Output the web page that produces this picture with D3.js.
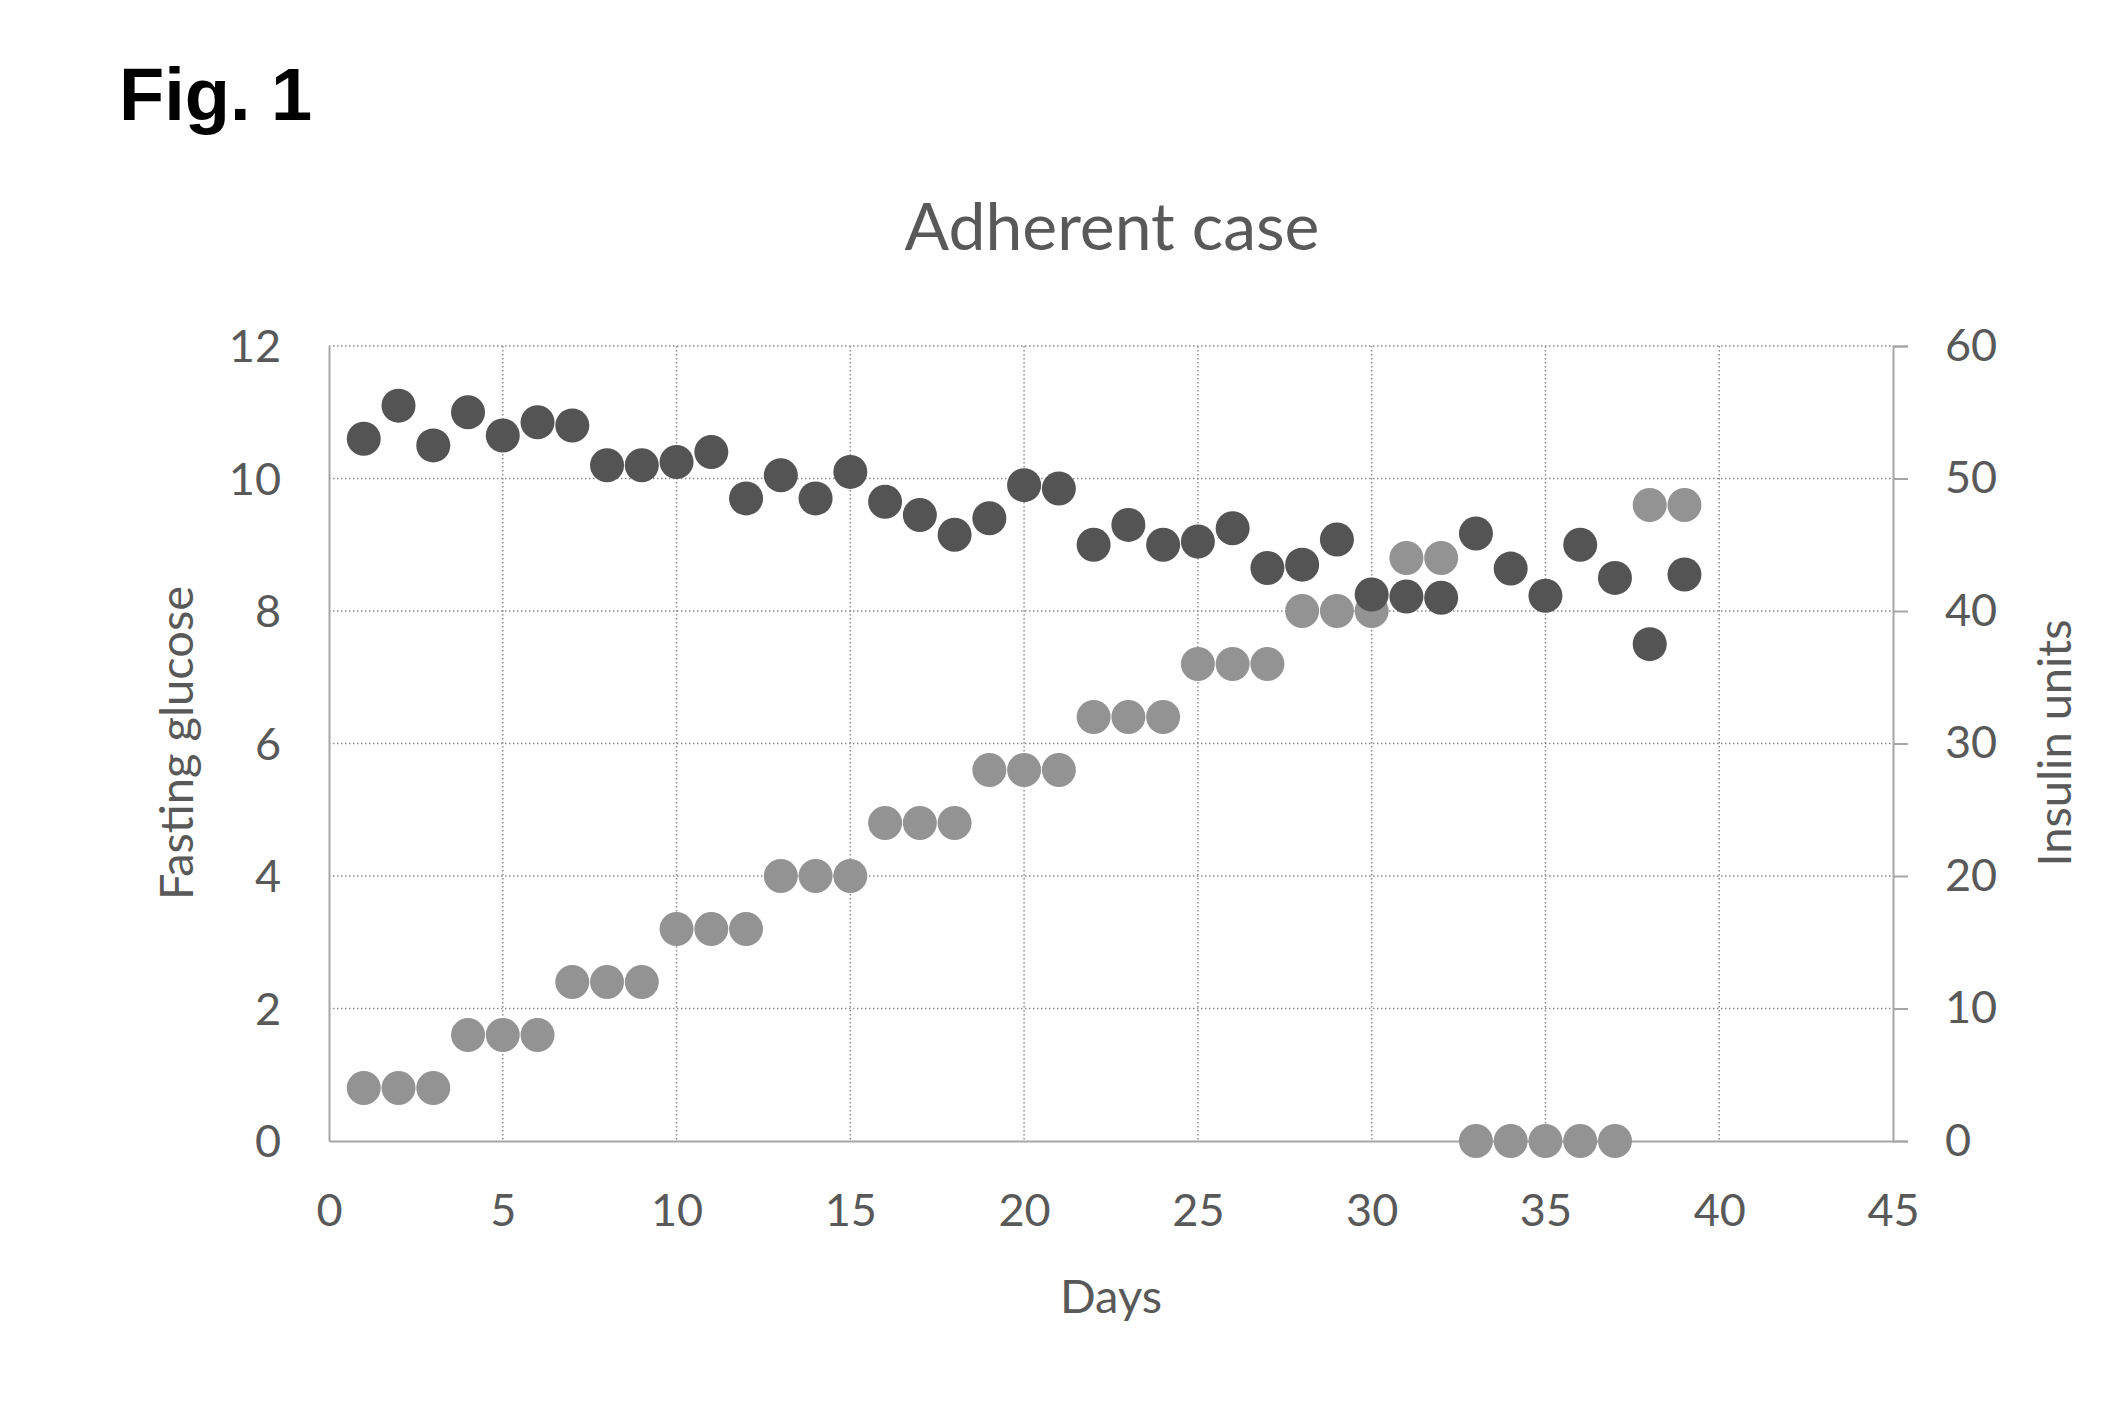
<!DOCTYPE html>
<html>
<head>
<meta charset="utf-8">
<script src="https://cdn.jsdelivr.net/npm/d3@7"></script>
<style>
  body { margin: 0; background: #fff; }
</style>
</head>
<body>
<div id="vizContainer"></div>
<script>
// days on the x axis
var days = d3.range(1, 40);

// fasting glucose (left axis), one value per day
var glucose = [10.6, 11.1, 10.5, 11.0, 10.65, 10.85, 10.8, 10.2, 10.2, 10.25,
               10.4, 9.7, 10.05, 9.7, 10.1, 9.65, 9.45, 9.15, 9.4, 9.9,
               9.85, 9.0, 9.3, 9.0, 9.05, 9.25, 8.65, 8.7, 9.08, 8.25,
               8.22, 8.2, 9.17, 8.64, 8.23, 9.0, 8.5, 7.5, 8.55];

// insulin units (right axis), one value per day
var insulin = [4, 4, 4, 8, 8, 8, 12, 12, 12, 16,
               16, 16, 20, 20, 20, 24, 24, 24, 28, 28,
               28, 32, 32, 32, 36, 36, 36, 40, 40, 40,
               44, 44, 0, 0, 0, 0, 0, 48, 48];

var xTicks = [0, 5, 10, 15, 20, 25, 30, 35, 40, 45];
var leftTicks = [0, 2, 4, 6, 8, 10, 12];
var rightTicks = [0, 10, 20, 30, 40, 50, 60];

var width = 2123, height = 1413;
var plot = { left: 329, right: 1893, top: 346, bottom: 1141 };
var textColor = '#595959';
var font = 'Lato, "Open Sans", sans-serif';

var svg = d3.select('#vizContainer').append('svg')
    .attr('width', width)
    .attr('height', height)
    .attr('viewBox', '0 0 ' + width + ' ' + height);

var x = d3.scaleLinear().domain([0, 45]).range([plot.left, plot.right]);
var yL = d3.scaleLinear().domain([0, 12]).range([plot.bottom, plot.top]);
var yR = d3.scaleLinear().domain([0, 60]).range([plot.bottom, plot.top]);

// dotted gridlines
svg.append('g').selectAll('line').data(leftTicks.slice(1)).enter().append('line')
    .attr('x1', plot.left).attr('x2', plot.right)
    .attr('y1', function(d){ return yL(d); }).attr('y2', function(d){ return yL(d); })
    .attr('stroke', '#8c8c8c').attr('stroke-width', 1.5).attr('stroke-dasharray', '1.5,2.5');
svg.append('g').selectAll('line').data(xTicks.slice(1, -1)).enter().append('line')
    .attr('y1', plot.top).attr('y2', plot.bottom)
    .attr('x1', function(d){ return x(d); }).attr('x2', function(d){ return x(d); })
    .attr('stroke', '#8c8c8c').attr('stroke-width', 1.5).attr('stroke-dasharray', '1.5,2.5');

// axes
function styleAxis(g){
    g.selectAll('.domain').attr('stroke', '#a6a6a6').attr('stroke-width', 2);
    g.selectAll('.tick line').attr('stroke', '#a6a6a6').attr('stroke-width', 2);
    g.selectAll('text').attr('fill', textColor).attr('font-size', 45)
        .style('font-family', font);
}

svg.append('g')
    .attr('transform', 'translate(0,' + plot.bottom + ')')
    .call(d3.axisBottom(x).tickValues(xTicks).tickSize(0).tickPadding(53))
    .call(styleAxis);

svg.append('g')
    .attr('transform', 'translate(' + plot.left + ',0)')
    .call(d3.axisLeft(yL).tickValues(leftTicks).tickSize(0).tickPadding(48))
    .call(styleAxis)
    .selectAll('text').attr('dy', '0.35em');

svg.append('g')
    .attr('transform', 'translate(' + plot.right + ',0)')
    .call(d3.axisRight(yR).tickValues(rightTicks).tickSizeInner(15).tickSizeOuter(15).tickPadding(37))
    .call(styleAxis);

// points: insulin first, glucose over it
svg.append('g').selectAll('circle').data(days).enter().append('circle')
    .attr('cx', function(d){ return x(d); })
    .attr('cy', function(d, i){ return yR(insulin[i]); })
    .attr('r', 17)
    .attr('fill', '#939393');

svg.append('g').selectAll('circle').data(days).enter().append('circle')
    .attr('cx', function(d){ return x(d); })
    .attr('cy', function(d, i){ return yL(glucose[i]); })
    .attr('r', 17)
    .attr('fill', '#545454');

// titles
svg.append('text')
    .attr('x', 119).attr('y', 120)
    .style('font-family', '"Liberation Sans", Arial, sans-serif')
    .attr('font-weight', 'bold').attr('font-size', 74)
    .text('Fig. 1');

svg.append('text')
    .attr('x', (plot.left + plot.right) / 2 + 1).attr('y', 250)
    .style('font-family', font)
    .attr('text-anchor', 'middle').attr('font-size', 66).attr('fill', textColor)
    .text('Adherent case');

svg.append('text')
    .attr('x', (plot.left + plot.right) / 2).attr('y', 1313)
    .style('font-family', font)
    .attr('text-anchor', 'middle').attr('font-size', 47).attr('fill', textColor)
    .text('Days');

svg.append('text')
    .attr('transform', 'translate(193,743) rotate(-90)')
    .style('font-family', font)
    .attr('text-anchor', 'middle').attr('font-size', 47).attr('fill', textColor)
    .text('Fasting glucose');

svg.append('text')
    .attr('transform', 'translate(2071,743) rotate(-90)')
    .style('font-family', font)
    .attr('text-anchor', 'middle').attr('font-size', 47).attr('fill', textColor)
    .text('Insulin units');
</script>
</body>
</html>
